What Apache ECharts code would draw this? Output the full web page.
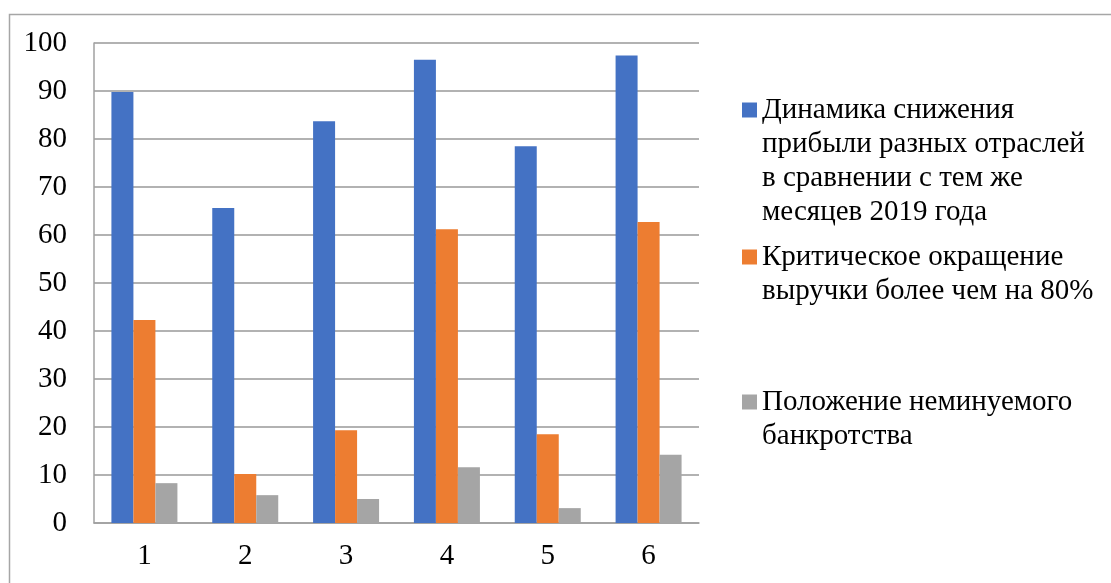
<!DOCTYPE html>
<html>
<head>
<meta charset="utf-8">
<script src="https://cdn.jsdelivr.net/npm/echarts@6/dist/echarts.min.js"></script>
<style>
html,body{margin:0;padding:0;background:#fff;}
#chart{width:1111px;height:583px;}
</style>
</head>
<body>
<div id="chart"></div>
<script>
var categories = ['1', '2', '3', '4', '5', '6'];
var seriesNames = [
  'Динамика снижения прибыли разных отраслей в сравнении с тем же месяцев 2019 года',
  'Критическое окращение выручки более чем на 80%',
  'Положение неминуемого банкротства'
];
var legendLabels = [
  'Динамика снижения\nприбыли разных отраслей\nв сравнении с тем же\nмесяцев 2019 года',
  'Критическое окращение\nвыручки более чем на 80%',
  'Положение неминуемого\nбанкротства'
];
var profitDecline = [89.8, 65.6, 83.7, 96.5, 78.5, 97.4];
var revenueDrop = [42.3, 10.2, 19.3, 61.2, 18.5, 62.7];
var bankruptcy = [8.3, 5.8, 5.0, 11.6, 3.1, 14.2];
var colors = ['#4472C4', '#ED7D31', '#A5A5A5'];

var FONT = 'Liberation Serif';
var LINE_H = 34;

function makeLegend(idx, firstLineY, nLines) {
  var h = nLines * LINE_H;
  var c = LINE_H / 2;
  // square icon sitting on the first text line, inside a box as tall as the text block
  var icon = 'path://M0,0 M0,' + h + ' M0,' + (c - 7.5) + ' L15,' + (c - 7.5) +
             ' L15,' + (c + 7.5) + ' L0,' + (c + 7.5) + ' Z';
  return {
    data: [{ name: seriesNames[idx], icon: icon }],
    orient: 'vertical',
    left: 742,
    top: firstLineY - c,
    padding: 0,
    itemWidth: 15,
    itemHeight: h,
    selectedMode: false,
    formatter: function () { return legendLabels[idx]; },
    textStyle: {
      fontFamily: FONT,
      fontSize: 29,
      color: '#000',
      lineHeight: LINE_H
    }
  };
}

var chart = echarts.init(document.getElementById('chart'));
chart.setOption({
  animation: false,
  backgroundColor: '#fff',
  color: colors,
  graphic: [{
    type: 'rect',
    left: 7, top: 12,
    shape: { x: 0, y: 0, width: 1130, height: 600 },
    style: { fill: 'none', stroke: '#A6A6A6', lineWidth: 1.5 },
    silent: true
  }],
  legend: [
    makeLegend(0, 110, 4),
    makeLegend(1, 257, 2),
    makeLegend(2, 402, 2)
  ],
  grid: { left: 94, right: 412, top: 43, bottom: 60, containLabel: false },
  xAxis: {
    type: 'category',
    data: categories,
    axisTick: { show: false },
    axisLine: { show: true, lineStyle: { color: '#A0A0A0', width: 1.5 } },
    axisLabel: { fontFamily: FONT, fontSize: 29, color: '#000', margin: 19 }
  },
  yAxis: {
    type: 'value',
    min: 0, max: 100, interval: 10,
    axisLine: { show: true, lineStyle: { color: '#A0A0A0', width: 1.5 } },
    axisTick: { show: false },
    splitLine: { show: true, lineStyle: { color: '#999999', width: 1.5 } },
    axisLabel: { fontFamily: FONT, fontSize: 29, color: '#000', margin: 27 }
  },
  series: [
    { name: seriesNames[0], type: 'bar', data: profitDecline, barWidth: 22, barGap: '0%' },
    { name: seriesNames[1], type: 'bar', data: revenueDrop, barWidth: 22, barGap: '0%' },
    { name: seriesNames[2], type: 'bar', data: bankruptcy, barWidth: 22, barGap: '0%' }
  ]
});
</script>
</body>
</html>
